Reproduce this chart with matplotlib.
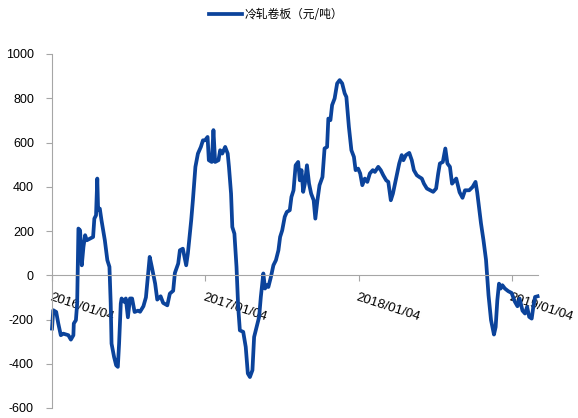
import matplotlib
matplotlib.use("Agg")
import matplotlib.pyplot as plt
import pandas as pd

series_label = "冷轧卷板（元/吨）"

dates = [
    "2016-01-04", "2016-01-07", "2016-01-14", "2016-01-19", "2016-01-25", "2016-01-31",
    "2016-02-12", "2016-02-18", "2016-02-24", "2016-02-25", "2016-03-01", "2016-03-04",
    "2016-03-07", "2016-03-11", "2016-03-15", "2016-03-19", "2016-03-23", "2016-03-27",
    "2016-04-04", "2016-04-11", "2016-04-14", "2016-04-18", "2016-04-21", "2016-04-23",
    "2016-04-27", "2016-05-01", "2016-05-09", "2016-05-15", "2016-05-20", "2016-05-23",
    "2016-05-25", "2016-05-31", "2016-06-05", "2016-06-09", "2016-06-12", "2016-06-16",
    "2016-06-18", "2016-06-24", "2016-06-28", "2016-07-03", "2016-07-08", "2016-07-13",
    "2016-07-19", "2016-07-27", "2016-08-01", "2016-08-09", "2016-08-15", "2016-08-18",
    "2016-08-21", "2016-08-24", "2016-08-29", "2016-09-06", "2016-09-11", "2016-09-19",
    "2016-09-25", "2016-10-05", "2016-10-11", "2016-10-19", "2016-10-23", "2016-10-31",
    "2016-11-04", "2016-11-11", "2016-11-19", "2016-11-23", "2016-12-01", "2016-12-05",
    "2016-12-11", "2016-12-17", "2016-12-24", "2016-12-29",
    "2017-01-03", "2017-01-09", "2017-01-12", "2017-01-19", "2017-01-23", "2017-01-27",
    "2017-02-04", "2017-02-08", "2017-02-13", "2017-02-20", "2017-02-26", "2017-03-01",
    "2017-03-06", "2017-03-09", "2017-03-14", "2017-03-19", "2017-03-23", "2017-03-27",
    "2017-04-04", "2017-04-10", "2017-04-15", "2017-04-20", "2017-04-26", "2017-04-30",
    "2017-05-06", "2017-05-12", "2017-05-16", "2017-05-22", "2017-05-26", "2017-05-30",
    "2017-06-03", "2017-06-09", "2017-06-15", "2017-06-21", "2017-06-27", "2017-07-01",
    "2017-07-06", "2017-07-12", "2017-07-17", "2017-07-24", "2017-07-28", "2017-08-02",
    "2017-08-07", "2017-08-13", "2017-08-17", "2017-08-21", "2017-08-25", "2017-08-29",
    "2017-09-03", "2017-09-08", "2017-09-13", "2017-09-19", "2017-09-23", "2017-09-28",
    "2017-10-03", "2017-10-10", "2017-10-15", "2017-10-21", "2017-10-24", "2017-10-29",
    "2017-11-02", "2017-11-08", "2017-11-14", "2017-11-20", "2017-11-26", "2017-12-02",
    "2017-12-06", "2017-12-12", "2017-12-18", "2017-12-24", "2017-12-28",
    "2018-01-03", "2018-01-08", "2018-01-13", "2018-01-19", "2018-01-25", "2018-01-31",
    "2018-02-07", "2018-02-12", "2018-02-20", "2018-02-26", "2018-03-04", "2018-03-11",
    "2018-03-16", "2018-03-22", "2018-03-27", "2018-04-01", "2018-04-07", "2018-04-11",
    "2018-04-17", "2018-04-21", "2018-04-27", "2018-05-05", "2018-05-11", "2018-05-16",
    "2018-05-23", "2018-05-29", "2018-06-04", "2018-06-09", "2018-06-16", "2018-06-24",
    "2018-07-01", "2018-07-08", "2018-07-13", "2018-07-17", "2018-07-24", "2018-07-30",
    "2018-08-04", "2018-08-10", "2018-08-15", "2018-08-25", "2018-09-02", "2018-09-09",
    "2018-09-15", "2018-09-25", "2018-10-03", "2018-10-10", "2018-10-14", "2018-10-23",
    "2018-10-29", "2018-11-04", "2018-11-10", "2018-11-16", "2018-11-20", "2018-11-23",
    "2018-11-27", "2018-12-01", "2018-12-05", "2018-12-09", "2018-12-13", "2018-12-19",
    "2018-12-27",
    "2019-01-04", "2019-01-12", "2019-01-18", "2019-01-23", "2019-01-30", "2019-02-05",
    "2019-02-10", "2019-02-15", "2019-02-21", "2019-02-25", "2019-03-01", "2019-03-07",
]

values = [
    -241, -158, -166, -218, -271, -264,
    -271, -291, -271, -218, -203, -128,
    211, 203, 45, 128, 181, 158,
    166, 173, 256, 271, 437, 294,
    301, 249, 158, 68, 38, -128,
    -309, -369, -407, -414, -309, -128,
    -105, -120, -105, -190, -105, -105,
    -166, -160, -165, -140, -100, -38,
    20, 83, 38, -38, -110, -95,
    -125, -136, -83, -70, 10, 53,
    113, 120, 45, 98, 249, 339,
    490, 550, 580, 610,
    610, 625, 520, 512, 656, 512,
    520, 565, 550, 580, 550, 490,
    369, 218, 188, 38, -143, -249,
    -256, -324, -444, -460, -429, -279,
    -234, -188, -98, 8, -60, -45,
    -53, -8, 45, 68, 113, 173,
    203, 264, 286, 294, 354, 384,
    497, 512, 429, 475, 377, 414,
    497, 414, 369, 339, 256, 339,
    407, 444, 573, 580, 708, 701,
    769, 799, 867, 882, 867, 822,
    806, 671, 565, 535, 475,
    482, 460, 407, 437, 422, 460,
    475, 467, 490, 475, 452, 429,
    422, 339, 369, 414, 467, 505,
    543, 520, 543, 553, 520, 475,
    452, 444, 437, 414, 392, 384,
    377, 392, 460, 505, 512, 573,
    505, 490, 414, 437, 375, 350,
    384, 384, 399, 422, 375, 235,
    158, 70, -90, -203, -240, -268,
    -234, -113, -38, -60, -45, -60,
    -72,
    -80, -120, -140, -105, -160, -173,
    -143, -188, -196, -140, -98, -95,
]

tick_dates = ["2016-01-04", "2017-01-04", "2018-01-04", "2019-01-04"]
tick_labels = ["2016/01/04", "2017/01/04", "2018/01/04", "2019/01/04"]
y_ticks = [-600, -400, -200, 0, 200, 400, 600, 800, 1000]
x_start, x_end = "2016-01-04", "2019-03-08"

line_color = "#0B439B"
axis_color = "#A6A6A6"

plt.rcParams["font.family"] = ["Liberation Sans", "Noto Sans CJK SC", "DejaVu Sans"]

fig = plt.figure(figsize=(5.78, 4.18), dpi=100)
ax = fig.add_axes([52 / 578, 10 / 418, 486 / 578, 354 / 418])

x = pd.to_datetime(dates)
ax.plot(x, values, color=line_color, linewidth=2.7, solid_joinstyle="round",
        label=series_label, clip_on=False)

ax.set_xlim(pd.Timestamp(x_start), pd.Timestamp(x_end))
ax.set_ylim(y_ticks[0], y_ticks[-1])
ax.set_yticks(y_ticks)
ax.set_yticklabels([str(v) for v in y_ticks])

ax.spines["top"].set_visible(False)
ax.spines["right"].set_visible(False)
ax.spines["left"].set_color(axis_color)
ax.spines["bottom"].set_color(axis_color)
ax.spines["bottom"].set_position(("data", 0))

ax.tick_params(axis="y", direction="out", length=4, color=axis_color,
               labelsize=9, labelcolor="#000000", pad=9)
ax.set_xticks(pd.to_datetime(tick_dates))
ax.set_xticklabels(tick_labels)
ax.tick_params(axis="x", direction="out", length=4, color=axis_color,
               labelsize=9.5, labelcolor="#000000", pad=8)
for lbl in ax.get_xticklabels():
    lbl.set_rotation(-18)
    lbl.set_ha("left")
    lbl.set_va("top")
    lbl.set_rotation_mode("anchor")

leg = fig.legend(loc="center", bbox_to_anchor=(276 / 578, 1 - 15 / 418),
                 frameon=False, handlelength=2.8, handletextpad=0.15,
                 borderpad=0, prop={"family": ["Noto Sans CJK SC", "DejaVu Sans"], "size": 8.5})

fig.savefig("out.png", dpi=100)
